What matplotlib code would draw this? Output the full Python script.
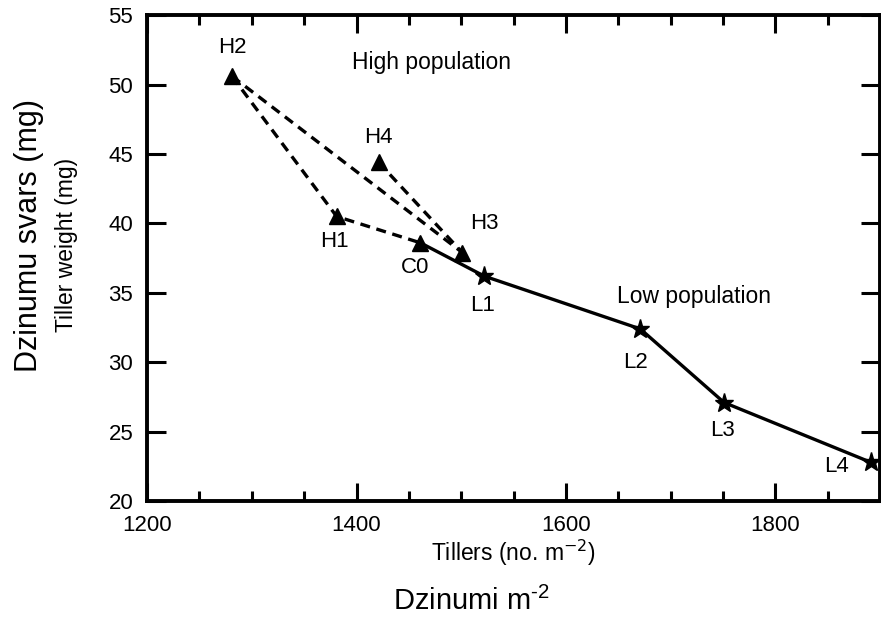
import numpy as np
import matplotlib
matplotlib.use('Agg')
from matplotlib import pyplot as plt
from matplotlib.ticker import MultipleLocator

plt.rcParams['font.family'] = ['Liberation Sans', 'DejaVu Sans']

names = ['H2', 'H4', 'H1', 'C0', 'H3', 'L1', 'L2', 'L3', 'L4']
tillers = [1281, 1421, 1381, 1461, 1501, 1522, 1671, 1751, 1891]
weight = [50.6, 44.4, 40.5, 38.6, 37.9, 36.2, 32.4, 27.1, 22.8]
pt = dict(zip(names, zip(tillers, weight)))

dashed_paths = [['H2', 'H1', 'C0'], ['H2', 'H3'], ['H4', 'H3']]
solid_path = ['C0', 'L1', 'L2', 'L3', 'L4']
tri_pts = ['H2', 'H4', 'H1', 'C0', 'H3']
star_pts = ['L1', 'L2', 'L3', 'L4']

label_pos = {'H2': (1281, 52.7), 'H4': (1421, 46.2), 'H1': (1379, 38.7),
             'C0': (1456, 36.8), 'H3': (1522, 40.0), 'L1': (1520, 34.1),
             'L2': (1666, 30.0), 'L3': (1749, 25.1), 'L4': (1858, 22.5)}

fig = plt.figure(figsize=(8.81, 6.28), dpi=100)
ax = fig.add_axes([0.167, 0.202, 0.832, 0.774])

for path in dashed_paths:
    ax.plot([pt[n][0] for n in path], [pt[n][1] for n in path], color='black', lw=2.4, dashes=(3, 2))
ax.plot([pt[n][0] for n in solid_path], [pt[n][1] for n in solid_path], '-', color='black', lw=2.4)
ax.plot([pt[n][0] for n in tri_pts], [pt[n][1] for n in tri_pts], '^', color='black', ms=12, ls='none')
ax.plot([pt[n][0] for n in star_pts], [pt[n][1] for n in star_pts], '*', color='black', ms=14, ls='none')

for n in names:
    ax.text(label_pos[n][0], label_pos[n][1], n, ha='center', va='center', fontsize=16)
ax.text(1472, 51.6, 'High population', ha='center', va='center', fontsize=16.5)
ax.text(1722, 34.7, 'Low population', ha='center', va='center', fontsize=16.5)

ax.set_xlim(1200, 1900)
ax.set_ylim(20, 55)
ax.xaxis.set_major_locator(MultipleLocator(200))
ax.xaxis.set_minor_locator(MultipleLocator(50))
ax.yaxis.set_major_locator(MultipleLocator(5))
ax.tick_params(which='both', direction='in', top=True, right=True, width=2.2, labelsize=16)
ax.tick_params(axis='x', which='major', length=13, pad=10)
ax.tick_params(axis='x', which='minor', length=7)
ax.tick_params(axis='y', which='major', length=14, pad=10)
for s in ax.spines.values():
    s.set_linewidth(2.8)

ax.set_xlabel('Tillers (no. m$^{-2}$)', fontsize=16.5, labelpad=1)
fig.text(0.076, 0.61, 'Tiller weight (mg)', ha='center', va='center', rotation=90, fontsize=16.5)
fig.text(0.535, 0.042, r'Dzinumi m$^{\mathregular{‐2}}$', ha='center', va='center', fontsize=21)
fig.text(0.033, 0.625, 'Dzinumu svars (mg)', ha='center', va='center', rotation=90, fontsize=22)

fig.savefig('out.png', dpi=100)
